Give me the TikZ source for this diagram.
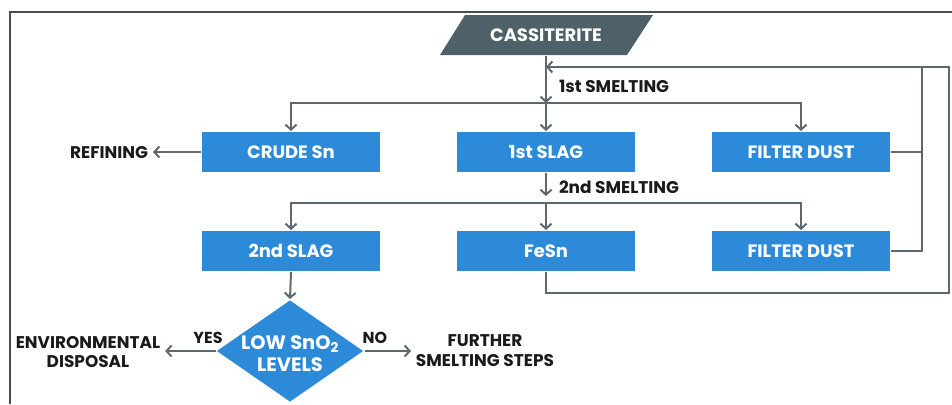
\documentclass[tikz,border=0pt]{standalone}
\usepackage{fontspec}
\setmainfont{Poppins}
\usepackage{tikz}
\usetikzlibrary{arrows.meta,shapes.geometric}

\definecolor{boxblue}{HTML}{2C8AD8}
\definecolor{slate}{HTML}{4F6168}
\definecolor{linegray}{HTML}{5E686D}
\definecolor{inkblack}{HTML}{1A1A1A}

\begin{document}
\begin{tikzpicture}[x=1bp, y=-1bp, line width=2bp,
    flow/.style={draw=linegray, -{Straight Barb[length=5bp, width=11bp, line width=2bp]}},
    link/.style={draw=linegray},
    stage/.style={fill=boxblue, text=white, minimum width=178bp, minimum height=40bp, inner sep=0pt, font=\bfseries\fontsize{18}{20}\selectfont},
    label/.style={text=inkblack, inner sep=4bp, align=center, font=\bfseries\fontsize{17}{20}\selectfont}]
    \useasboundingbox (0,0) rectangle (952,404);

    % frame
    \draw[line width=1.5bp, draw=black!70] (10,404) -- (10,12) -- (952,12);

    % ore
    \fill[slate] (465,15) -- (653,15) -- (627,55) -- (440,55) -- cycle;
    \node[text=white, minimum height=40bp, inner sep=0pt, font=\bfseries\fontsize{18}{20}\selectfont] (cas) at (546,35) {CASSITERITE};

    % first smelting products
    \node[stage] (crude) at (291,152) {CRUDE Sn};
    \node[stage] (slag1) at (546,152) {1st SLAG};
    \node[stage] (dust1) at (801,152) {FILTER DUST};

    % second smelting products
    \node[stage] (slag2) at (291,251) {2nd SLAG};
    \node[stage] (fesn) at (546,251) {FeSn};
    \node[stage] (dust2) at (801,251) {FILTER DUST};

    \node[diamond, fill=boxblue, minimum width=147bp, minimum height=102bp, inner sep=0pt] (low) at (290,351) {};
    \node[text=white, align=center, font=\bfseries\fontsize{19.5}{22}\selectfont] at (290,354) {LOW SnO\textsubscript{2}\\LEVELS};

    \node[label, anchor=east] (refining) at (153,153) {REFINING};
    \node[label] (env) at (88,352) {ENVIRONMENTAL\\DISPOSAL};
    \node[label] (further) at (485,351) {FURTHER\\SMELTING STEPS};

    \coordinate (split1) at (546,103);
    \coordinate (split2) at (546,203);
    \coordinate (back) at (546,67);

    % first smelting
    \draw[flow] (cas.south) -- (split1);
    \draw[flow] (split1) -- (slag1.north);
    \draw[flow] (split1) -| (crude.north);
    \draw[flow] (split1) -| (dust1.north);
    \draw node[label, anchor=west] at (554,86) {1st SMELTING};
    \draw[flow] (crude.west) -- (refining.east |- crude.west);

    % second smelting
    \draw[flow] (slag1.south) -- (546,196);
    \draw node[label, anchor=west] at (554,187) {2nd SMELTING};
    \draw[flow] (split2) -- (fesn.north);
    \draw[flow] (split2) -| (slag2.north);
    \draw[flow] (split2) -| (dust2.north);

    % recycling of dust and FeSn
    \draw[link] (dust1.east) -- (922,152);
    \draw[link] (dust2.east) -| (922,67);
    \draw[link] (fesn.south) |- (949,293) -- (949,67) -- (922,67);
    \draw[flow] (922,67) -- (back);

    % slag decision
    \draw[flow] (slag2.south) -- (low.north);
    \draw[flow] (low.west) -- (env.east |- low.west);
    \draw[flow] (low.east) -- (further.west |- low.east);
    \draw node[label, font=\bfseries\fontsize{16}{20}\selectfont] at (208,338) {YES};
    \draw node[label, font=\bfseries\fontsize{16}{20}\selectfont] at (375,338) {NO};
\end{tikzpicture}
\end{document}
